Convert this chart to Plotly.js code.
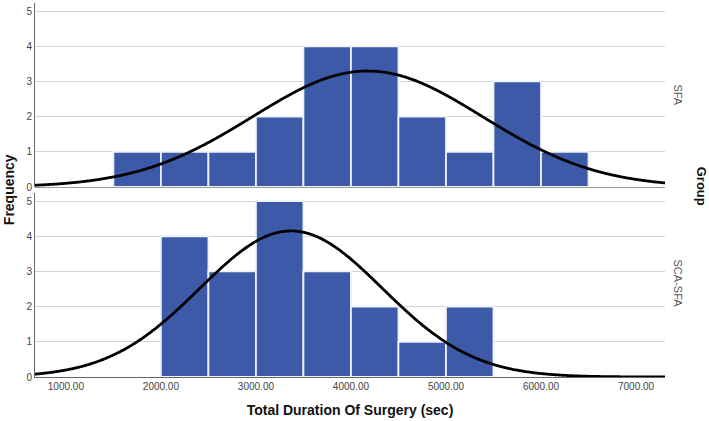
<!DOCTYPE html>
<html>
<head>
<meta charset="utf-8">
<script src="https://cdn.plot.ly/plotly-3.0.1.min.js"></script>
<style>html,body{margin:0;padding:0;background:#fff}#chart{width:709px;height:421px}</style>
</head>
<body>
<div id="chart"></div>
<script>
// Histogram bins (start of each 500-sec bin)
const binWidth = 500;
const sfaBinStarts = [1500, 2000, 2500, 3000, 3500, 4000, 4500, 5000, 5500, 6000];
const sfaCounts    = [1, 1, 1, 2, 4, 4, 2, 1, 3, 1];
const scaBinStarts = [2000, 2500, 3000, 3500, 4000, 4500, 5000];
const scaCounts    = [4, 3, 5, 3, 2, 1, 2];
// Fitted normal curve parameters
const sfaMean = 4175, sfaSD = 1210, sfaN = 20;
const scaMean = 3370, scaSD = 961, scaN = 20;
const groupLabels = ["SFA", "SCA-SFA"];
const xTicks = [1000, 2000, 3000, 4000, 5000, 6000, 7000];

const xMin = 675, xMax = 7305;
function normalCurve(mean, sd, n) {
  const xs = [], ys = [];
  for (let x = xMin; x <= xMax; x += 15) {
    xs.push(x);
    ys.push(n * binWidth / (sd * Math.sqrt(2 * Math.PI)) * Math.exp(-0.5 * Math.pow((x - mean) / sd, 2)));
  }
  return {xs, ys};
}
const c1 = normalCurve(sfaMean, sfaSD, sfaN);
const c2 = normalCurve(scaMean, scaSD, scaN);

const barColor = "#3d5aa8";
const barLine = {color: "#eef2fa", width: 1.8};
const traces = [
  {type: "bar", x: sfaBinStarts.map(s => s + binWidth / 2), y: sfaCounts, width: binWidth,
   marker: {color: barColor, line: barLine}, xaxis: "x", yaxis: "y2", hoverinfo: "skip"},
  {type: "scatter", mode: "lines", x: c1.xs, y: c1.ys, line: {color: "#000", width: 2.8, shape: "spline"},
   xaxis: "x", yaxis: "y2", hoverinfo: "skip"},
  {type: "bar", x: scaBinStarts.map(s => s + binWidth / 2), y: scaCounts, width: binWidth,
   marker: {color: barColor, line: barLine}, xaxis: "x", yaxis: "y", hoverinfo: "skip"},
  {type: "scatter", mode: "lines", x: c2.xs, y: c2.ys, line: {color: "#000", width: 2.8, shape: "spline"},
   xaxis: "x", yaxis: "y", hoverinfo: "skip"}
];

const tickFont = {family: "Liberation Sans, Arial, sans-serif", size: 10, color: "#444"};
const yCommon = {
  range: [0, 5.23], tickvals: [0, 1, 2, 3, 4, 5], showgrid: true, gridcolor: "#d4d4d4", gridwidth: 1,
  zeroline: true, zerolinecolor: "#9a9a9a", zerolinewidth: 1,
  showline: true, linecolor: "#666", linewidth: 1, ticks: "", tickfont: tickFont, fixedrange: true
};
const layout = {
  width: 709, height: 421,
  margin: {l: 35, r: 44, t: 3, b: 44},
  paper_bgcolor: "#fff", plot_bgcolor: "#fff",
  showlegend: false, bargap: 0,
  font: {family: "Liberation Sans, Arial, sans-serif"},
  xaxis: {
    range: [xMin, xMax], tickvals: xTicks, ticktext: xTicks.map(v => v.toFixed(2)),
    showgrid: false, zeroline: false, showline: true, linecolor: "#666", ticks: "",
    tickfont: tickFont, anchor: "y", fixedrange: true,
    title: {text: "Total Duration Of Surgery (sec)", font: {size: 14, color: "#111", family: "Liberation Sans, Arial, sans-serif", weight: "bold"}, standoff: 14}
  },
  yaxis: Object.assign({}, yCommon, {domain: [0, 0.492], anchor: "x"}),
  yaxis2: Object.assign({}, yCommon, {domain: [0.508, 1], anchor: "x"}),
  annotations: [
    {text: "<b>Frequency</b>", xref: "paper", yref: "paper", x: -0.041, y: 0.5, xanchor: "center", yanchor: "middle",
     textangle: -90, showarrow: false, font: {size: 14, color: "#111"}},
    {text: "<b>Group</b>", xref: "paper", yref: "paper", x: 1.058, y: 0.51, xanchor: "center", yanchor: "middle",
     textangle: 90, showarrow: false, font: {size: 13, color: "#111"}},
    {text: groupLabels[0], xref: "paper", yref: "paper", x: 1.02, y: 0.754, xanchor: "center", yanchor: "middle",
     textangle: 90, showarrow: false, font: {size: 11, color: "#555"}},
    {text: groupLabels[1], xref: "paper", yref: "paper", x: 1.02, y: 0.251, xanchor: "center", yanchor: "middle",
     textangle: 90, showarrow: false, font: {size: 11, color: "#555"}}
  ]
};
Plotly.newPlot("chart", traces, layout, {staticPlot: true, displayModeBar: false});
</script>
</body>
</html>
